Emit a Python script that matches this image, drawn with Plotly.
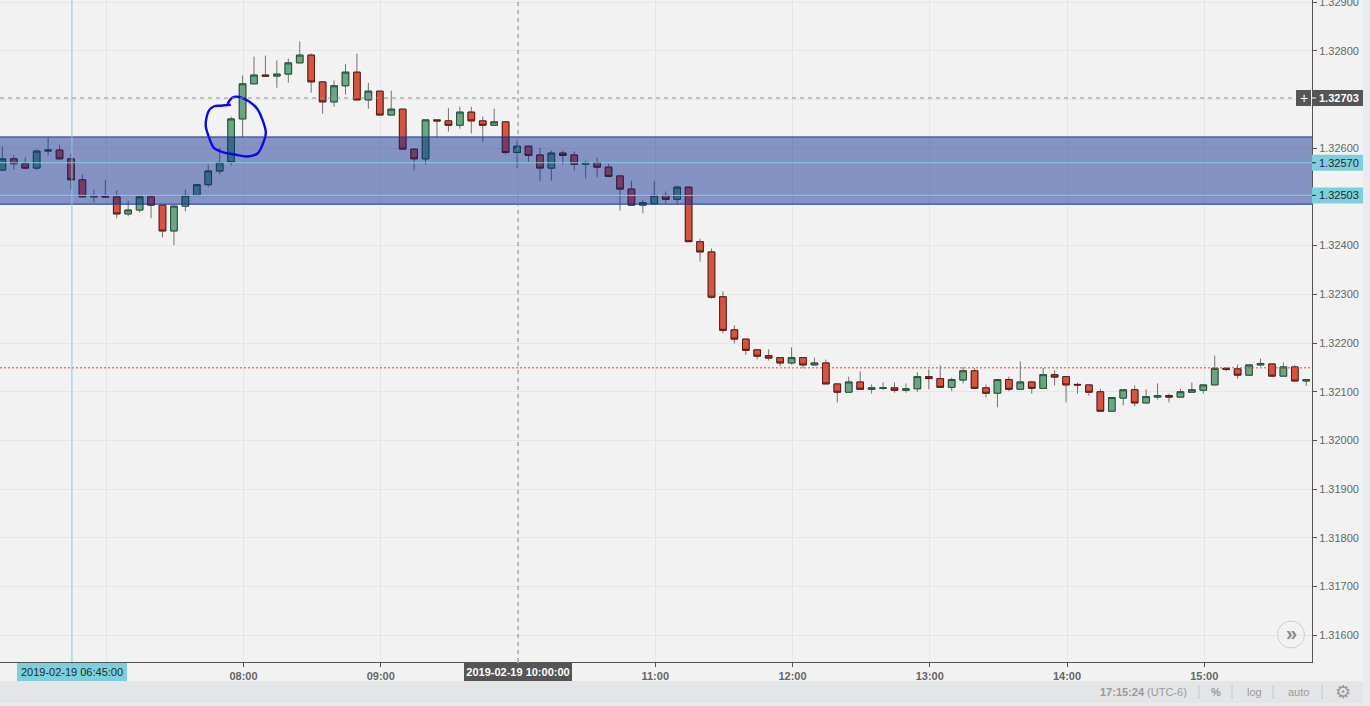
from datetime import datetime, timedelta
import plotly.graph_objects as go

times = ["06:15","06:20","06:25","06:30","06:35","06:40","06:45","06:50","06:55","07:00",
"07:05","07:10","07:15","07:20","07:25","07:30","07:35","07:40","07:45","07:50",
"07:55","08:00","08:05","08:10","08:15","08:20","08:25","08:30","08:35","08:40",
"08:45","08:50","08:55","09:00","09:05","09:10","09:15","09:20","09:25","09:30",
"09:35","09:40","09:45","09:50","09:55","10:00","10:05","10:10","10:15","10:20",
"10:25","10:30","10:35","10:40","10:45","10:50","10:55","11:00","11:05","11:10",
"11:15","11:20","11:25","11:30","11:35","11:40","11:45","11:50","11:55","12:00",
"12:05","12:10","12:15","12:20","12:25","12:30","12:35","12:40","12:45","12:50",
"12:55","13:00","13:05","13:10","13:15","13:20","13:25","13:30","13:35","13:40",
"13:45","13:50","13:55","14:00","14:05","14:10","14:15","14:20","14:25","14:30",
"14:35","14:40","14:45","14:50","14:55","15:00","15:05","15:10","15:15","15:20",
"15:25","15:30","15:35","15:40","15:45"]

opens = [1.32555,1.32578,1.32568,1.32559,1.32594,1.32596,1.32578,1.32535,1.32500,1.32502,
1.32500,1.32465,1.32473,1.32500,1.32483,1.32430,1.32481,1.32503,1.32525,1.32553,
1.32572,1.32660,1.32732,1.32750,1.32748,1.32752,1.32775,1.32791,1.32736,1.32695,
1.32728,1.32756,1.32699,1.32717,1.32668,1.32680,1.32598,1.32578,1.32658,1.32656,
1.32647,1.32674,1.32656,1.32647,1.32654,1.32591,1.32604,1.32586,1.32559,1.32590,
1.32586,1.32567,1.32570,1.32561,1.32543,1.32516,1.32483,1.32486,1.32503,1.32495,
1.32520,1.32408,1.32387,1.32295,1.32227,1.32208,1.32186,1.32174,1.32170,1.32159,
1.32170,1.32155,1.32159,1.32116,1.32099,1.32120,1.32105,1.32107,1.32108,1.32103,
1.32106,1.32131,1.32127,1.32109,1.32124,1.32143,1.32108,1.32097,1.32125,1.32105,
1.32120,1.32107,1.32135,1.32131,1.32115,1.32114,1.32100,1.32060,1.32087,1.32104,
1.32077,1.32089,1.32092,1.32089,1.32099,1.32103,1.32114,1.32148,1.32147,1.32134,
1.32155,1.32157,1.32132,1.32151,1.32122]

highs = [1.32604,1.32585,1.32581,1.32597,1.32622,1.32607,1.32589,1.32546,1.32515,1.32535,
1.32513,1.32492,1.32503,1.32503,1.32483,1.32481,1.32515,1.32527,1.32566,1.32601,
1.32665,1.32749,1.32788,1.32790,1.32780,1.32784,1.32819,1.32794,1.32736,1.32739,
1.32773,1.32794,1.32734,1.32717,1.32718,1.32680,1.32598,1.32658,1.32658,1.32682,
1.32685,1.32685,1.32665,1.32681,1.32654,1.32617,1.32604,1.32601,1.32595,1.32595,
1.32593,1.32574,1.32581,1.32568,1.32543,1.32533,1.32494,1.32533,1.32511,1.32523,
1.32520,1.32414,1.32394,1.32306,1.32236,1.32208,1.32186,1.32187,1.32170,1.32191,
1.32170,1.32170,1.32166,1.32116,1.32131,1.32142,1.32115,1.32119,1.32119,1.32117,
1.32140,1.32146,1.32154,1.32129,1.32151,1.32148,1.32115,1.32125,1.32131,1.32162,
1.32122,1.32149,1.32144,1.32131,1.32119,1.32114,1.32106,1.32088,1.32104,1.32113,
1.32105,1.32117,1.32096,1.32106,1.32119,1.32114,1.32174,1.32150,1.32156,1.32155,
1.32168,1.32157,1.32160,1.32154,1.32125]

lows = [1.32555,1.32556,1.32556,1.32555,1.32585,1.32578,1.32515,1.32500,1.32489,1.32500,
1.32456,1.32460,1.32468,1.32456,1.32417,1.32401,1.32470,1.32503,1.32520,1.32546,
1.32564,1.32623,1.32732,1.32748,1.32724,1.32734,1.32775,1.32714,1.32671,1.32685,
1.32710,1.32699,1.32681,1.32668,1.32668,1.32598,1.32554,1.32566,1.32623,1.32634,
1.32640,1.32630,1.32613,1.32647,1.32587,1.32559,1.32572,1.32533,1.32533,1.32566,
1.32554,1.32538,1.32540,1.32540,1.32472,1.32483,1.32466,1.32486,1.32486,1.32486,
1.32408,1.32367,1.32291,1.32220,1.32199,1.32176,1.32166,1.32164,1.32152,1.32156,
1.32148,1.32155,1.32116,1.32078,1.32099,1.32105,1.32096,1.32103,1.32098,1.32098,
1.32099,1.32105,1.32109,1.32101,1.32117,1.32107,1.32088,1.32068,1.32101,1.32105,
1.32096,1.32107,1.32113,1.32078,1.32096,1.32092,1.32060,1.32060,1.32072,1.32070,
1.32077,1.32084,1.32078,1.32089,1.32099,1.32096,1.32114,1.32142,1.32127,1.32134,
1.32152,1.32132,1.32132,1.32122,1.32112]

closes = [1.32578,1.32568,1.32559,1.32594,1.32596,1.32578,1.32535,1.32500,1.32502,1.32500,
1.32465,1.32473,1.32500,1.32483,1.32430,1.32481,1.32503,1.32525,1.32553,1.32570,
1.32660,1.32732,1.32750,1.32748,1.32752,1.32775,1.32791,1.32736,1.32695,1.32728,
1.32756,1.32699,1.32717,1.32668,1.32680,1.32598,1.32578,1.32658,1.32656,1.32647,
1.32674,1.32656,1.32647,1.32654,1.32591,1.32604,1.32585,1.32559,1.32590,1.32585,
1.32567,1.32570,1.32561,1.32542,1.32516,1.32483,1.32488,1.32503,1.32495,1.32520,
1.32408,1.32387,1.32294,1.32226,1.32208,1.32185,1.32173,1.32169,1.32159,1.32170,
1.32155,1.32159,1.32116,1.32099,1.32120,1.32105,1.32108,1.32108,1.32103,1.32106,
1.32131,1.32127,1.32109,1.32125,1.32143,1.32107,1.32097,1.32125,1.32105,1.32120,
1.32107,1.32135,1.32130,1.32114,1.32114,1.32099,1.32060,1.32088,1.32104,1.32077,
1.32090,1.32092,1.32089,1.32100,1.32104,1.32114,1.32148,1.32146,1.32134,1.32155,
1.32158,1.32132,1.32151,1.32122,1.32125]

day = "2019-02-19 "
band_top = 1.32623
band_bottom = 1.32485
level_lines = [1.32570, 1.32503]
level_labels = ["1.32570", "1.32503"]
crosshair_price = 1.32703
crosshair_label = "1.32703"
last_price = 1.32149
marker_time = "06:45:00"
marker_label = "2019-02-19 06:45:00"
crosshair_time = "10:00:00"
crosshair_time_label = "2019-02-19 10:00:00"

x_start = day + "06:13:33"
x_end = day + "15:47:06"
y_low = 1.315452
y_high = 1.329041

price_ticks = [1.316 + i * 0.001 for i in range(14)]
hour_ticks = ["07:00", "08:00", "09:00", "10:00", "11:00", "12:00", "13:00", "14:00", "15:00"]
hour_labels = ["", "08:00", "09:00", "", "11:00", "12:00", "13:00", "14:00", "15:00"]

circle_times = ["07:54:27","07:50:05","07:47:10","07:45:00","07:43:48","07:43:30","07:45:00",
                "07:47:10","07:50:48","07:55:54","08:01:45","08:06:06","08:08:18","08:09:45",
                "08:08:18","08:06:06","08:02:27","07:58:06","07:55:12","07:53:00"]
circle_prices = [1.32689,1.32687,1.32686,1.32678,1.32662,1.32645,1.32621,1.32600,1.32592,1.32587,
                 1.32583,1.32589,1.32607,1.32631,1.32658,1.32680,1.32696,1.32705,1.32704,1.32691]

PLOT_W, PLOT_H = 1312, 662
WIDTH, HEIGHT = 1370, 706
def px(x): return x / PLOT_W
def py(y): return 1 - y / PLOT_H

FONT = "Liberation Sans, Arial, sans-serif"
BG = "#F2F2F2"
GRID = "#E6E6E6"
CYAN = "#7ECFDC"
DARK = "#555555"
WICK = "#737375"

# the source draws each candle about a pixel left of its time gridline
candle_nudge = timedelta(seconds=-25)
xs = [(datetime.strptime(day + t, "%Y-%m-%d %H:%M") + candle_nudge).strftime("%Y-%m-%d %H:%M:%S")
      for t in times]
body_hi = [max(o, c) for o, c in zip(opens, closes)]
body_lo = [min(o, c) for o, c in zip(opens, closes)]

fig = go.Figure()
fig.add_trace(go.Candlestick(
    x=xs, open=opens, high=highs, low=lows, close=closes, hoverinfo="skip", showlegend=False,
    increasing=dict(line=dict(color=WICK, width=1), fillcolor=WICK),
    decreasing=dict(line=dict(color=WICK, width=1), fillcolor=WICK)))
fig.add_trace(go.Candlestick(
    x=xs, open=opens, high=body_hi, low=body_lo, close=closes, hoverinfo="skip", showlegend=False,
    increasing=dict(line=dict(color="#225437", width=1), fillcolor="#6BA583"),
    decreasing=dict(line=dict(color="#5B1A13", width=1), fillcolor="#D75442")))
fig.add_trace(go.Scatter(
    x=[x_start, x_end, x_end, x_start], y=[band_top, band_top, band_bottom, band_bottom],
    mode="none", fill="toself", fillcolor="rgba(0,32,140,0.45)", hoverinfo="skip", showlegend=False))
fig.add_trace(go.Scatter(
    x=[day + t for t in circle_times], y=circle_prices, mode="lines",
    line=dict(color="#0A0AE6", width=2.4, shape="spline", smoothing=1.0),
    hoverinfo="skip", showlegend=False))

shapes = []
def hline(y, color, width=1, dash="solid"):
    shapes.append(dict(type="line", xref="paper", yref="y", x0=0, x1=1, y0=y, y1=y,
                       line=dict(color=color, width=width, dash=dash), layer="above"))
def vline(x, color, width=1, dash="solid"):
    shapes.append(dict(type="line", xref="x", yref="paper", x0=x, x1=x, y0=0, y1=1,
                       line=dict(color=color, width=width, dash=dash), layer="above"))

hline(band_top, "#1A3A8F")
hline(band_bottom, "#1A3A8F")
for v in level_lines:
    hline(v, CYAN)
hline(crosshair_price, "#8C8C8C", dash="4px,4px")
hline(last_price, "#F0402B", dash="2px,2px")
vline(day + marker_time, CYAN)
vline(day + crosshair_time, "#8C8C8C", dash="4px,4px")

def price_box(y, fill, x0=1312, x1=1363):
    shapes.append(dict(type="rect", xref="paper", yref="y", ysizemode="pixel", yanchor=y,
                       x0=px(x0), x1=px(x1), y0=-8, y1=8, fillcolor=fill,
                       line=dict(width=0), layer="above"))
def price_tick(y, color):
    shapes.append(dict(type="line", xref="paper", yref="y", x0=px(1312), x1=px(1316), y0=y, y1=y,
                       line=dict(color=color, width=1), layer="above"))
def time_tick(x, color):
    shapes.append(dict(type="line", xref="x", yref="paper", x0=x, x1=x, y0=py(662), y1=py(667),
                       line=dict(color=color, width=1), layer="above"))

# page chrome
def rect(x0, y0, x1, y1, fill):
    shapes.append(dict(type="rect", xref="paper", yref="paper", x0=px(x0), x1=px(x1),
                       y0=py(y1), y1=py(y0), fillcolor=fill, line=dict(width=0), layer="below"))
rect(1363, -2, 1372, 708, "#E8ECEF")
rect(-2, 681, 1363, 703, "#E4E5E7")
rect(-2, 703, 1372, 708, "#E8ECEF")
for sx in (1199, 1232, 1273, 1322):
    shapes.append(dict(type="line", xref="paper", yref="paper", x0=px(sx), x1=px(sx),
                       y0=py(699), y1=py(685), line=dict(color="#C4C6C9", width=1), layer="below"))
shapes.append(dict(type="circle", xref="paper", yref="paper", x0=px(1277.5), x1=px(1304.5),
                   y0=py(648), y1=py(621), fillcolor="rgba(242,242,242,0.6)",
                   line=dict(color="#CFCFCF", width=1), layer="above"))

annotations = []
def note(text, x, y, xref="paper", yref="paper", xanchor="center", yanchor="middle",
         color="#666666", size=11, bg=None, w=None, h=None, bold=False):
    annotations.append(dict(text=text, x=x, y=y, xref=xref, yref=yref, xanchor=xanchor,
                            yanchor=yanchor, showarrow=False, bgcolor=bg, width=w, height=h,
                            borderpad=0, borderwidth=0,
                            font=dict(family=FONT, size=size, color=color,
                                      weight="bold" if bold else "normal")))

for v, t in zip(level_lines, level_labels):
    price_box(v, CYAN)
    price_tick(v, "#1F2A30")
    note(t, px(1319), v, yref="y", xanchor="left", color="#1F2A30")
price_box(crosshair_price, DARK)
price_box(crosshair_price, DARK, 1296, 1311)
price_tick(crosshair_price, "#FFFFFF")
note(crosshair_label, px(1319), crosshair_price, yref="y", xanchor="left", color="#FFFFFF", bold=True)
note("+", px(1303.5), crosshair_price, yref="y", color="#FFFFFF", size=14)
note(marker_label, day + marker_time, py(672), xref="x", color="#1F2A30", bg=CYAN, w=110, h=18)
note(crosshair_time_label, day + crosshair_time, py(672), xref="x", color="#FFFFFF", bg=DARK,
     w=108, h=18, bold=True)
time_tick(day + marker_time, "#1F2A30")
time_tick(day + crosshair_time, "#FFFFFF")
note("<b>17:15:24</b> (UTC-6)", px(1143), py(692), color="#9A9A9A")
note("%", px(1216), py(692), color="#9A9A9A", bold=True)
note("log", px(1254), py(692), color="#9A9A9A")
note("auto", px(1298), py(692), color="#9A9A9A")
note("\u2699", px(1343), py(692), color="#9A9A9A", size=18)
note("\u00BB", px(1291), py(633), color="#8C8C8C", size=20, bold=True)

fig.update_layout(
    width=WIDTH, height=HEIGHT,
    margin=dict(l=0, r=WIDTH - PLOT_W, t=0, b=HEIGHT - PLOT_H, autoexpand=False),
    paper_bgcolor=BG, plot_bgcolor=BG, showlegend=False, dragmode=False,
    boxmode="overlay", boxgap=0.42, boxgroupgap=0,
    shapes=shapes, annotations=annotations,
    font=dict(family=FONT, size=11, color="#666666"),
    xaxis=dict(type="date", range=[x_start, x_end], rangeslider=dict(visible=False),
               tickmode="array", tickvals=[day + h + ":00" for h in hour_ticks],
               ticktext=hour_labels, showgrid=True, gridcolor=GRID, gridwidth=1, zeroline=False,
               showline=True, linecolor=DARK, linewidth=1, ticks="outside", ticklen=4,
               tickcolor=DARK, tickfont=dict(family=FONT, size=11, color="#666666", weight="bold")),
    yaxis=dict(range=[y_low, y_high], side="right", tickmode="array", tickvals=price_ticks,
               tickformat=".5f", showgrid=True, gridcolor=GRID, gridwidth=1, zeroline=False,
               showline=True, linecolor=DARK, linewidth=1, ticks="outside", ticklen=4,
               ticklabeloverflow="allow",
               tickcolor=DARK, tickfont=dict(family=FONT, size=11, color="#666666")),
)

fig.write_html("out.html", config=dict(displayModeBar=False),
               post_script="document.body.style.margin='0';document.body.style.overflow='hidden';")
